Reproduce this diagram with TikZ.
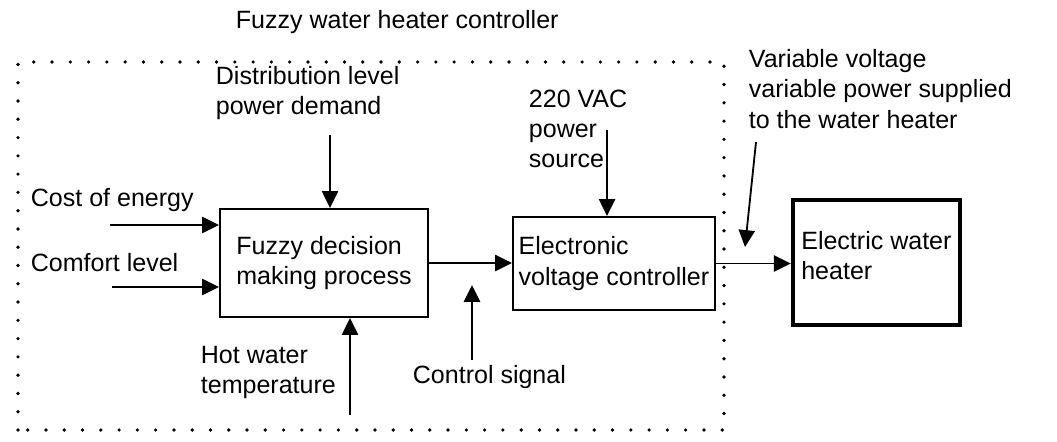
\documentclass[tikz,border=0pt]{standalone}
\usepackage{fontspec}
\setmainfont{Liberation Sans}
\usetikzlibrary{arrows.meta}

\begin{document}
\begin{tikzpicture}[
    font=\fontsize{17.8}{21.5}\selectfont,
    >={Triangle[length=12pt,width=11.5pt]},
    line width=1.3pt,
    block/.style={draw, line width=1.5pt, align=left, inner sep=0pt},
    txt/.style={align=left, anchor=west, inner sep=0pt}
]
    \useasboundingbox (0,0) rectangle (26.425,11.025);

    % Dotted border of the controller
    \draw[line width=2.6pt, line cap=round, dash pattern=on 0pt off 13pt] (0.45,0.275) rectangle (18.1,9.475);
    \node[txt] (title) at (5.875,10.475) {Fuzzy water heater controller};

    % Blocks
    \node[block, minimum width=5.2cm, minimum height=2.7cm] (fuzzy) at (8.1,4.45) {Fuzzy decision\\making process};
    \node[block, minimum width=5.05cm, minimum height=2.325cm] (elec) at (15.35,4.4375) {Electronic\\voltage controller};
    \node[block, line width=3pt, minimum width=4.175cm, minimum height=3.125cm] (heater) at (21.91,4.46) {Electric water\\heater\\[-0.4cm]};

    % Inputs of the fuzzy block
    \node[txt] (cost) at (0.75,6.025) {Cost of energy};
    \node[txt] (comfort) at (0.75,4.45) {Comfort level};
    \node[txt] (demand) at (5.375,8.69) {Distribution level\\power demand};
    \node[txt] (hot) at (5.0,1.71) {Hot water\\temperature};
    \coordinate (coststart) at (2.75,5.4);
    \coordinate (comfortstart) at (2.8,3.85);
    \coordinate (demandstart) at (8.25,7.65);
    \coordinate (hotstart) at (8.75,0.65);
    \draw[->] (coststart) -- (coststart -| fuzzy.west);
    \draw[->] (comfortstart) -- (comfortstart -| fuzzy.west);
    \draw[->] (demandstart) -- (demandstart |- fuzzy.north);
    \draw[->] (hotstart) -- (hotstart |- fuzzy.south);

    % Control signal
    \draw[->] (fuzzy.east) -- (fuzzy.east -| elec.west);
    \node[txt] (signal) at (10.3,1.6) {Control signal};
    \coordinate (signalend) at (11.8,3.9);
    \draw[->] ([yshift=3pt]signalend |- signal.north) -- (signalend);

    % Power source
    \node[txt] (source) at (13.2,7.8) {220 VAC\\power\\source};
    \coordinate (sourcestart) at (15.175,7.775);
    \draw[->] (sourcestart) -- (sourcestart |- elec.north);

    % Output to the heater
    \draw[->] (elec.east) -- (elec.east -| heater.west);
    \node[txt] (supply) at (18.7,8.8) {Variable voltage\\variable power supplied\\to the water heater};
    \coordinate (supplystart) at (18.9,7.475);
    \coordinate (supplyend) at (18.625,4.85);
    \draw[->] (supplystart) -- (supplyend);
\end{tikzpicture}
\end{document}
